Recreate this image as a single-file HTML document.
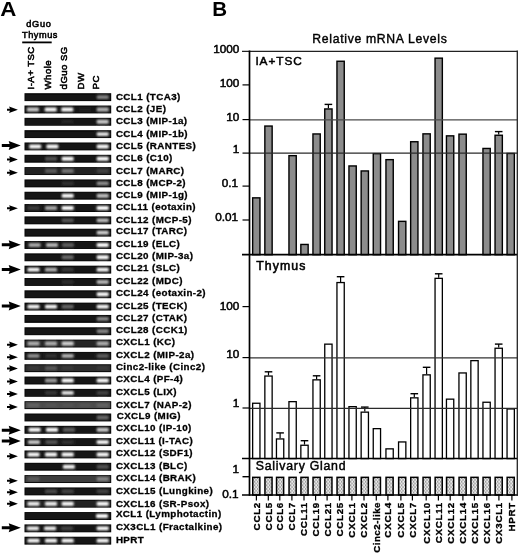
<!DOCTYPE html>
<html><head><meta charset="utf-8"><style>
html,body{margin:0;padding:0;background:#fff;}
body{width:520px;height:554px;overflow:hidden;}
svg{display:block;filter:blur(0.3px);font-family:"Liberation Sans",sans-serif;}
</style></head><body>
<svg width="520" height="554" viewBox="0 0 520 554">
<defs>
<filter id="blur" x="-30%" y="-80%" width="160%" height="260%"><feGaussianBlur stdDeviation="0.85"/></filter>
<filter id="soft" x="-5%" y="-30%" width="110%" height="160%"><feGaussianBlur stdDeviation="0.35"/></filter>
<pattern id="dots" x="0.3" y="0.2" width="3" height="3.6" patternUnits="userSpaceOnUse">
<rect width="3" height="3.6" fill="#f6f6f6"/>
<circle cx="0.9" cy="0.9" r="0.62" fill="#222"/>
<circle cx="2.4" cy="2.7" r="0.62" fill="#222"/>
</pattern>
</defs>
<rect width="520" height="554" fill="#fff"/>
<text transform="translate(0.2,15.9) scale(1.1,1)" font-size="20.3" font-weight="bold">A</text>
<text x="38.90" y="26.50" font-size="9.2" font-weight="normal" text-anchor="middle" letter-spacing="0.65" stroke="#000" stroke-width="0.55">dGuo</text>
<text x="40.00" y="37.50" font-size="9.2" font-weight="normal" text-anchor="middle" letter-spacing="0.55" stroke="#000" stroke-width="0.55">Thymus</text>
<rect x="22.20" y="41.50" width="29.50" height="1.80" fill="#000" />
<text transform="translate(34.40,89.4) rotate(-90)" x="0" y="0" font-size="9.6" font-weight="normal" stroke="#000" stroke-width="0.55" letter-spacing="0.45">I-A+ TSC</text>
<text transform="translate(50.90,89.4) rotate(-90)" x="0" y="0" font-size="9.6" font-weight="normal" stroke="#000" stroke-width="0.55" letter-spacing="0.45">Whole</text>
<text transform="translate(67.30,89.4) rotate(-90)" x="0" y="0" font-size="9.6" font-weight="normal" stroke="#000" stroke-width="0.55" letter-spacing="0.45">dGuo SG</text>
<text transform="translate(83.90,89.4) rotate(-90)" x="0" y="0" font-size="9.6" font-weight="normal" stroke="#000" stroke-width="0.55" letter-spacing="0.45">DW</text>
<text transform="translate(98.50,89.4) rotate(-90)" x="0" y="0" font-size="9.6" font-weight="normal" stroke="#000" stroke-width="0.55" letter-spacing="0.45">PC</text>
<g filter="url(#soft)">
<rect x="24.50" y="93.20" width="86.70" height="7.90" fill="#060606" />
<rect x="25.40" y="94.10" width="84.90" height="6.10" fill="rgb(18,18,18)" />
<rect x="96.70" y="95.20" width="12.00" height="3.9" rx="1.2" fill="#fff" fill-opacity="0.49" filter="url(#blur)"/>
</g>
<text x="115.90" y="99.85" font-size="9.8" font-weight="bold" text-anchor="start" letter-spacing="0.4" stroke="#000" stroke-width="0.3">CCL1 (TCA3)</text>
<g filter="url(#soft)">
<rect x="24.50" y="105.52" width="86.70" height="7.90" fill="#060606" />
<rect x="25.40" y="106.42" width="84.90" height="6.10" fill="rgb(22,22,22)" />
<rect x="26.90" y="107.52" width="12.00" height="3.9" rx="1.2" fill="#fff" fill-opacity="0.79" filter="url(#blur)"/>
<rect x="44.70" y="107.52" width="12.00" height="3.9" rx="1.2" fill="#fff" fill-opacity="1.00" filter="url(#blur)"/>
<rect x="61.30" y="107.52" width="12.00" height="3.9" rx="1.2" fill="#fff" fill-opacity="1.00" filter="url(#blur)"/>
<rect x="79.00" y="107.52" width="12.00" height="3.9" rx="1.2" fill="#fff" fill-opacity="0.05" filter="url(#blur)"/>
<rect x="96.70" y="107.52" width="12.00" height="3.9" rx="1.2" fill="#fff" fill-opacity="0.69" filter="url(#blur)"/>
</g>
<text x="115.90" y="112.20" font-size="9.8" font-weight="bold" text-anchor="start" letter-spacing="0.4" stroke="#000" stroke-width="0.3">CCL2 (JE)</text>
<path d="M7.0,108.77 L9.9,108.77 L9.1,106.57 L17.9,109.77 L9.1,112.97 L9.9,110.77 L7.0,110.77 Z" fill="#000"/>
<g filter="url(#soft)">
<rect x="24.50" y="117.84" width="86.70" height="7.90" fill="#060606" />
<rect x="25.40" y="118.74" width="84.90" height="6.10" fill="rgb(22,22,22)" />
<rect x="61.70" y="119.84" width="12.00" height="3.9" rx="1.2" fill="#fff" fill-opacity="0.07" filter="url(#blur)"/>
<rect x="96.70" y="119.84" width="12.00" height="3.9" rx="1.2" fill="#fff" fill-opacity="0.79" filter="url(#blur)"/>
</g>
<text x="115.90" y="124.40" font-size="9.8" font-weight="bold" text-anchor="start" letter-spacing="0.4" stroke="#000" stroke-width="0.3">CCL3 (MIP-1a)</text>
<g filter="url(#soft)">
<rect x="24.50" y="130.16" width="86.70" height="7.90" fill="#060606" />
<rect x="25.40" y="131.06" width="84.90" height="6.10" fill="rgb(18,18,18)" />
<rect x="96.70" y="132.16" width="12.00" height="3.9" rx="1.2" fill="#fff" fill-opacity="0.91" filter="url(#blur)"/>
</g>
<text x="115.90" y="136.60" font-size="9.8" font-weight="bold" text-anchor="start" letter-spacing="0.4" stroke="#000" stroke-width="0.3">CCL4 (MIP-1b)</text>
<g filter="url(#soft)">
<rect x="24.50" y="142.48" width="86.70" height="7.90" fill="#060606" />
<rect x="25.40" y="143.38" width="84.90" height="6.10" fill="rgb(20,20,20)" />
<rect x="29.20" y="144.48" width="12.00" height="3.9" rx="1.2" fill="#fff" fill-opacity="1.00" filter="url(#blur)"/>
<rect x="46.40" y="144.48" width="12.00" height="3.9" rx="1.2" fill="#fff" fill-opacity="1.00" filter="url(#blur)"/>
<rect x="96.70" y="144.48" width="12.00" height="3.9" rx="1.2" fill="#fff" fill-opacity="1.00" filter="url(#blur)"/>
</g>
<text x="115.90" y="149.10" font-size="9.8" font-weight="bold" text-anchor="start" letter-spacing="0.4" stroke="#000" stroke-width="0.3">CCL5 (RANTES)</text>
<path d="M1.8,143.93 L9.6,143.93 L8.7,140.93 L20.8,145.43 L8.7,149.93 L9.6,146.93 L1.8,146.93 Z" fill="#000"/>
<g filter="url(#soft)">
<rect x="24.50" y="154.80" width="86.70" height="7.90" fill="#060606" />
<rect x="25.40" y="155.70" width="84.90" height="6.10" fill="rgb(20,20,20)" />
<rect x="45.00" y="156.80" width="12.00" height="3.9" rx="1.2" fill="#fff" fill-opacity="0.27" filter="url(#blur)"/>
<rect x="61.70" y="156.80" width="12.00" height="3.9" rx="1.2" fill="#fff" fill-opacity="1.00" filter="url(#blur)"/>
<rect x="96.70" y="156.80" width="12.00" height="3.9" rx="1.2" fill="#fff" fill-opacity="1.00" filter="url(#blur)"/>
</g>
<text x="115.90" y="161.30" font-size="9.8" font-weight="bold" text-anchor="start" letter-spacing="0.4" stroke="#000" stroke-width="0.3">CCL6 (C10)</text>
<path d="M7.0,158.50 L9.9,158.50 L9.1,156.30 L17.9,159.50 L9.1,162.70 L9.9,160.50 L7.0,160.50 Z" fill="#000"/>
<g filter="url(#soft)">
<rect x="24.50" y="167.12" width="86.70" height="7.90" fill="#060606" />
<rect x="25.40" y="168.02" width="84.90" height="6.10" fill="rgb(36,36,36)" />
<rect x="45.00" y="169.12" width="12.00" height="3.9" rx="1.2" fill="#fff" fill-opacity="0.25" filter="url(#blur)"/>
<rect x="61.70" y="169.12" width="12.00" height="3.9" rx="1.2" fill="#fff" fill-opacity="0.37" filter="url(#blur)"/>
<rect x="96.70" y="169.12" width="12.00" height="3.9" rx="1.2" fill="#fff" fill-opacity="0.14" filter="url(#blur)"/>
</g>
<text x="115.90" y="173.50" font-size="9.8" font-weight="bold" text-anchor="start" letter-spacing="0.4" stroke="#000" stroke-width="0.3">CCL7 (MARC)</text>
<path d="M7.0,171.67 L9.9,171.67 L9.1,169.47 L17.9,172.67 L9.1,175.87 L9.9,173.67 L7.0,173.67 Z" fill="#000"/>
<g filter="url(#soft)">
<rect x="24.50" y="179.44" width="86.70" height="7.90" fill="#060606" />
<rect x="25.40" y="180.34" width="84.90" height="6.10" fill="rgb(20,20,20)" />
<rect x="61.70" y="181.44" width="12.00" height="3.9" rx="1.2" fill="#fff" fill-opacity="0.13" filter="url(#blur)"/>
<rect x="96.70" y="181.44" width="12.00" height="3.9" rx="1.2" fill="#fff" fill-opacity="0.53" filter="url(#blur)"/>
</g>
<text x="115.90" y="185.70" font-size="9.8" font-weight="bold" text-anchor="start" letter-spacing="0.4" stroke="#000" stroke-width="0.3">CCL8 (MCP-2)</text>
<g filter="url(#soft)">
<rect x="24.50" y="191.76" width="86.70" height="7.90" fill="#060606" />
<rect x="25.40" y="192.66" width="84.90" height="6.10" fill="rgb(20,20,20)" />
<rect x="61.70" y="193.76" width="12.00" height="3.9" rx="1.2" fill="#fff" fill-opacity="1.00" filter="url(#blur)"/>
<rect x="96.70" y="193.76" width="12.00" height="3.9" rx="1.2" fill="#fff" fill-opacity="0.74" filter="url(#blur)"/>
</g>
<text x="115.90" y="197.80" font-size="9.8" font-weight="bold" text-anchor="start" letter-spacing="0.4" stroke="#000" stroke-width="0.3">CCL9 (MIP-1g)</text>
<g filter="url(#soft)">
<rect x="24.50" y="204.08" width="86.70" height="7.90" fill="#060606" />
<rect x="25.40" y="204.98" width="84.90" height="6.10" fill="rgb(25,25,25)" />
<rect x="27.50" y="206.08" width="12.00" height="3.9" rx="1.2" fill="#fff" fill-opacity="0.14" filter="url(#blur)"/>
<rect x="45.00" y="206.08" width="12.00" height="3.9" rx="1.2" fill="#fff" fill-opacity="0.62" filter="url(#blur)"/>
<rect x="61.70" y="206.08" width="12.00" height="3.9" rx="1.2" fill="#fff" fill-opacity="1.00" filter="url(#blur)"/>
<rect x="96.70" y="206.08" width="12.00" height="3.9" rx="1.2" fill="#fff" fill-opacity="1.00" filter="url(#blur)"/>
</g>
<text x="115.90" y="210.20" font-size="9.8" font-weight="bold" text-anchor="start" letter-spacing="0.4" stroke="#000" stroke-width="0.3">CCL11 (eotaxin)</text>
<path d="M7.0,207.33 L9.9,207.33 L9.1,205.13 L17.9,208.33 L9.1,211.53 L9.9,209.33 L7.0,209.33 Z" fill="#000"/>
<g filter="url(#soft)">
<rect x="24.50" y="216.40" width="86.70" height="7.90" fill="#060606" />
<rect x="25.40" y="217.30" width="84.90" height="6.10" fill="rgb(20,20,20)" />
<rect x="61.70" y="218.40" width="12.00" height="3.9" rx="1.2" fill="#fff" fill-opacity="0.29" filter="url(#blur)"/>
<rect x="96.70" y="218.40" width="12.00" height="3.9" rx="1.2" fill="#fff" fill-opacity="0.74" filter="url(#blur)"/>
</g>
<text x="115.90" y="222.70" font-size="9.8" font-weight="bold" text-anchor="start" letter-spacing="0.4" stroke="#000" stroke-width="0.3">CCL12 (MCP-5)</text>
<g filter="url(#soft)">
<rect x="24.50" y="228.72" width="86.70" height="7.90" fill="#060606" />
<rect x="25.40" y="229.62" width="84.90" height="6.10" fill="rgb(18,18,18)" />
<rect x="96.70" y="230.72" width="12.00" height="3.9" rx="1.2" fill="#fff" fill-opacity="0.83" filter="url(#blur)"/>
</g>
<text x="115.90" y="233.70" font-size="9.8" font-weight="bold" text-anchor="start" letter-spacing="0.4" stroke="#000" stroke-width="0.3">CCL17 (TARC)</text>
<g filter="url(#soft)">
<rect x="24.50" y="241.04" width="86.70" height="7.90" fill="#060606" />
<rect x="25.40" y="241.94" width="84.90" height="6.10" fill="rgb(22,22,22)" />
<rect x="28.60" y="243.04" width="12.00" height="3.9" rx="1.2" fill="#fff" fill-opacity="0.63" filter="url(#blur)"/>
<rect x="46.00" y="243.04" width="12.00" height="3.9" rx="1.2" fill="#fff" fill-opacity="0.69" filter="url(#blur)"/>
<rect x="62.00" y="243.04" width="12.00" height="3.9" rx="1.2" fill="#fff" fill-opacity="0.31" filter="url(#blur)"/>
<rect x="96.70" y="243.04" width="12.00" height="3.9" rx="1.2" fill="#fff" fill-opacity="1.00" filter="url(#blur)"/>
</g>
<text x="115.90" y="246.70" font-size="9.8" font-weight="bold" text-anchor="start" letter-spacing="0.4" stroke="#000" stroke-width="0.3">CCL19 (ELC)</text>
<path d="M1.8,243.19 L9.6,243.19 L8.7,240.19 L20.8,244.69 L8.7,249.19 L9.6,246.19 L1.8,246.19 Z" fill="#000"/>
<g filter="url(#soft)">
<rect x="24.50" y="253.36" width="86.70" height="7.90" fill="#060606" />
<rect x="25.40" y="254.26" width="84.90" height="6.10" fill="rgb(20,20,20)" />
<rect x="61.70" y="255.36" width="12.00" height="3.9" rx="1.2" fill="#fff" fill-opacity="0.37" filter="url(#blur)"/>
<rect x="96.70" y="255.36" width="12.00" height="3.9" rx="1.2" fill="#fff" fill-opacity="1.00" filter="url(#blur)"/>
</g>
<text x="115.90" y="259.00" font-size="9.8" font-weight="bold" text-anchor="start" letter-spacing="0.4" stroke="#000" stroke-width="0.3">CCL20 (MIP-3a)</text>
<g filter="url(#soft)">
<rect x="24.50" y="265.68" width="86.70" height="7.90" fill="#060606" />
<rect x="25.40" y="266.58" width="84.90" height="6.10" fill="rgb(22,22,22)" />
<rect x="27.50" y="267.68" width="12.00" height="3.9" rx="1.2" fill="#fff" fill-opacity="1.00" filter="url(#blur)"/>
<rect x="45.00" y="267.68" width="12.00" height="3.9" rx="1.2" fill="#fff" fill-opacity="0.69" filter="url(#blur)"/>
<rect x="61.70" y="267.68" width="12.00" height="3.9" rx="1.2" fill="#fff" fill-opacity="0.15" filter="url(#blur)"/>
<rect x="96.70" y="267.68" width="12.00" height="3.9" rx="1.2" fill="#fff" fill-opacity="1.00" filter="url(#blur)"/>
</g>
<text x="115.90" y="271.30" font-size="9.8" font-weight="bold" text-anchor="start" letter-spacing="0.4" stroke="#000" stroke-width="0.3">CCL21 (SLC)</text>
<path d="M1.8,268.03 L9.6,268.03 L8.7,265.03 L20.8,269.53 L8.7,274.03 L9.6,271.03 L1.8,271.03 Z" fill="#000"/>
<g filter="url(#soft)">
<rect x="24.50" y="278.00" width="86.70" height="7.90" fill="#060606" />
<rect x="25.40" y="278.90" width="84.90" height="6.10" fill="rgb(20,20,20)" />
<rect x="61.70" y="280.00" width="12.00" height="3.9" rx="1.2" fill="#fff" fill-opacity="0.11" filter="url(#blur)"/>
<rect x="96.70" y="280.00" width="12.00" height="3.9" rx="1.2" fill="#fff" fill-opacity="0.69" filter="url(#blur)"/>
</g>
<text x="115.90" y="283.70" font-size="9.8" font-weight="bold" text-anchor="start" letter-spacing="0.4" stroke="#000" stroke-width="0.3">CCL22 (MDC)</text>
<g filter="url(#soft)">
<rect x="24.50" y="290.32" width="86.70" height="7.90" fill="#060606" />
<rect x="25.40" y="291.22" width="84.90" height="6.10" fill="rgb(18,18,18)" />
<rect x="96.70" y="292.32" width="12.00" height="3.9" rx="1.2" fill="#fff" fill-opacity="1.00" filter="url(#blur)"/>
</g>
<text x="115.90" y="296.40" font-size="9.8" font-weight="bold" text-anchor="start" letter-spacing="0.4" stroke="#000" stroke-width="0.3">CCL24 (eotaxin-2)</text>
<g filter="url(#soft)">
<rect x="24.50" y="302.64" width="86.70" height="7.90" fill="#060606" />
<rect x="25.40" y="303.54" width="84.90" height="6.10" fill="rgb(20,20,20)" />
<rect x="27.50" y="304.64" width="12.00" height="3.9" rx="1.2" fill="#fff" fill-opacity="1.00" filter="url(#blur)"/>
<rect x="45.00" y="304.64" width="12.00" height="3.9" rx="1.2" fill="#fff" fill-opacity="1.00" filter="url(#blur)"/>
<rect x="61.70" y="304.64" width="12.00" height="3.9" rx="1.2" fill="#fff" fill-opacity="0.37" filter="url(#blur)"/>
<rect x="96.70" y="304.64" width="12.00" height="3.9" rx="1.2" fill="#fff" fill-opacity="1.00" filter="url(#blur)"/>
</g>
<text x="115.90" y="308.60" font-size="9.8" font-weight="bold" text-anchor="start" letter-spacing="0.4" stroke="#000" stroke-width="0.3">CCL25 (TECK)</text>
<path d="M1.8,304.39 L9.6,304.39 L8.7,301.39 L20.8,305.89 L8.7,310.39 L9.6,307.39 L1.8,307.39 Z" fill="#000"/>
<g filter="url(#soft)">
<rect x="24.50" y="314.96" width="86.70" height="7.90" fill="#060606" />
<rect x="25.40" y="315.86" width="84.90" height="6.10" fill="rgb(18,18,18)" />
<rect x="96.70" y="316.96" width="12.00" height="3.9" rx="1.2" fill="#fff" fill-opacity="0.51" filter="url(#blur)"/>
</g>
<text x="115.90" y="320.80" font-size="9.8" font-weight="bold" text-anchor="start" letter-spacing="0.4" stroke="#000" stroke-width="0.3">CCL27 (CTAK)</text>
<g filter="url(#soft)">
<rect x="24.50" y="327.28" width="86.70" height="7.90" fill="#060606" />
<rect x="25.40" y="328.18" width="84.90" height="6.10" fill="rgb(18,18,18)" />
<rect x="96.70" y="329.28" width="12.00" height="3.9" rx="1.2" fill="#fff" fill-opacity="0.49" filter="url(#blur)"/>
</g>
<text x="115.90" y="333.00" font-size="9.8" font-weight="bold" text-anchor="start" letter-spacing="0.4" stroke="#000" stroke-width="0.3">CCL28 (CCK1)</text>
<g filter="url(#soft)">
<rect x="24.50" y="339.60" width="86.70" height="7.90" fill="#060606" />
<rect x="25.40" y="340.50" width="84.90" height="6.10" fill="rgb(40,40,40)" />
<rect x="27.50" y="341.60" width="12.00" height="3.9" rx="1.2" fill="#fff" fill-opacity="0.64" filter="url(#blur)"/>
<rect x="45.00" y="341.60" width="12.00" height="3.9" rx="1.2" fill="#fff" fill-opacity="0.64" filter="url(#blur)"/>
<rect x="61.70" y="341.60" width="12.00" height="3.9" rx="1.2" fill="#fff" fill-opacity="0.81" filter="url(#blur)"/>
<rect x="96.70" y="341.60" width="12.00" height="3.9" rx="1.2" fill="#fff" fill-opacity="0.64" filter="url(#blur)"/>
</g>
<text x="115.90" y="344.90" font-size="9.8" font-weight="bold" text-anchor="start" letter-spacing="0.4" stroke="#000" stroke-width="0.3">CXCL1 (KC)</text>
<path d="M7.0,343.70 L9.9,343.70 L9.1,341.50 L17.9,344.70 L9.1,347.90 L9.9,345.70 L7.0,345.70 Z" fill="#000"/>
<g filter="url(#soft)">
<rect x="24.50" y="351.92" width="86.70" height="7.90" fill="#060606" />
<rect x="25.40" y="352.82" width="84.90" height="6.10" fill="rgb(25,25,25)" />
<rect x="27.50" y="353.92" width="12.00" height="3.9" rx="1.2" fill="#fff" fill-opacity="0.52" filter="url(#blur)"/>
<rect x="45.00" y="353.92" width="12.00" height="3.9" rx="1.2" fill="#fff" fill-opacity="0.11" filter="url(#blur)"/>
<rect x="61.70" y="353.92" width="12.00" height="3.9" rx="1.2" fill="#fff" fill-opacity="0.68" filter="url(#blur)"/>
<rect x="96.70" y="353.92" width="12.00" height="3.9" rx="1.2" fill="#fff" fill-opacity="0.30" filter="url(#blur)"/>
</g>
<text x="115.90" y="357.50" font-size="9.8" font-weight="bold" text-anchor="start" letter-spacing="0.4" stroke="#000" stroke-width="0.3">CXCL2 (MIP-2a)</text>
<path d="M7.0,356.17 L9.9,356.17 L9.1,353.97 L17.9,357.17 L9.1,360.37 L9.9,358.17 L7.0,358.17 Z" fill="#000"/>
<g filter="url(#soft)">
<rect x="24.50" y="364.24" width="86.70" height="7.90" fill="#060606" />
<rect x="25.40" y="365.14" width="84.90" height="6.10" fill="rgb(45,45,45)" />
<rect x="27.50" y="366.24" width="12.00" height="3.9" rx="1.2" fill="#fff" fill-opacity="0.06" filter="url(#blur)"/>
<rect x="45.00" y="366.24" width="12.00" height="3.9" rx="1.2" fill="#fff" fill-opacity="0.21" filter="url(#blur)"/>
<rect x="61.70" y="366.24" width="12.00" height="3.9" rx="1.2" fill="#fff" fill-opacity="0.06" filter="url(#blur)"/>
<rect x="96.70" y="366.24" width="12.00" height="3.9" rx="1.2" fill="#fff" fill-opacity="0.06" filter="url(#blur)"/>
</g>
<text x="115.90" y="370.10" font-size="9.8" font-weight="bold" text-anchor="start" letter-spacing="0.4" stroke="#000" stroke-width="0.3">Cinc2-like (Cinc2)</text>
<path d="M7.0,367.49 L9.9,367.49 L9.1,365.29 L17.9,368.49 L9.1,371.69 L9.9,369.49 L7.0,369.49 Z" fill="#000"/>
<g filter="url(#soft)">
<rect x="24.50" y="376.56" width="86.70" height="7.90" fill="#060606" />
<rect x="25.40" y="377.46" width="84.90" height="6.10" fill="rgb(22,22,22)" />
<rect x="45.00" y="378.56" width="12.00" height="3.9" rx="1.2" fill="#fff" fill-opacity="0.58" filter="url(#blur)"/>
<rect x="61.70" y="378.56" width="12.00" height="3.9" rx="1.2" fill="#fff" fill-opacity="1.00" filter="url(#blur)"/>
<rect x="96.70" y="378.56" width="12.00" height="3.9" rx="1.2" fill="#fff" fill-opacity="1.00" filter="url(#blur)"/>
</g>
<text x="115.90" y="382.30" font-size="9.8" font-weight="bold" text-anchor="start" letter-spacing="0.4" stroke="#000" stroke-width="0.3">CXCL4 (PF-4)</text>
<path d="M7.0,380.51 L9.9,380.51 L9.1,378.31 L17.9,381.51 L9.1,384.71 L9.9,382.51 L7.0,382.51 Z" fill="#000"/>
<g filter="url(#soft)">
<rect x="24.50" y="388.88" width="86.70" height="7.90" fill="#060606" />
<rect x="25.40" y="389.78" width="84.90" height="6.10" fill="rgb(22,22,22)" />
<rect x="45.00" y="390.88" width="12.00" height="3.9" rx="1.2" fill="#fff" fill-opacity="0.15" filter="url(#blur)"/>
<rect x="61.70" y="390.88" width="12.00" height="3.9" rx="1.2" fill="#fff" fill-opacity="0.90" filter="url(#blur)"/>
<rect x="96.70" y="390.88" width="12.00" height="3.9" rx="1.2" fill="#fff" fill-opacity="0.20" filter="url(#blur)"/>
</g>
<text x="115.90" y="395.40" font-size="9.8" font-weight="bold" text-anchor="start" letter-spacing="0.4" stroke="#000" stroke-width="0.3">CXCL5 (LIX)</text>
<path d="M7.0,393.03 L9.9,393.03 L9.1,390.83 L17.9,394.03 L9.1,397.23 L9.9,395.03 L7.0,395.03 Z" fill="#000"/>
<g filter="url(#soft)">
<rect x="24.50" y="401.20" width="86.70" height="7.90" fill="#060606" />
<rect x="25.40" y="402.10" width="84.90" height="6.10" fill="rgb(76,76,76)" />
<rect x="27.50" y="403.20" width="12.00" height="3.9" rx="1.2" fill="#fff" fill-opacity="0.13" filter="url(#blur)"/>
<rect x="45.00" y="403.20" width="12.00" height="3.9" rx="1.2" fill="#fff" fill-opacity="0.04" filter="url(#blur)"/>
<rect x="61.70" y="403.20" width="12.00" height="3.9" rx="1.2" fill="#fff" fill-opacity="0.04" filter="url(#blur)"/>
<rect x="79.00" y="403.20" width="12.00" height="3.9" rx="1.2" fill="#fff" fill-opacity="0.04" filter="url(#blur)"/>
<rect x="96.70" y="403.20" width="12.00" height="3.9" rx="1.2" fill="#fff" fill-opacity="0.13" filter="url(#blur)"/>
</g>
<text x="115.90" y="407.80" font-size="9.8" font-weight="bold" text-anchor="start" letter-spacing="0.4" stroke="#000" stroke-width="0.3">CXCL7 (NAP-2)</text>
<path d="M7.0,406.00 L9.9,406.00 L9.1,403.80 L17.9,407.00 L9.1,410.20 L9.9,408.00 L7.0,408.00 Z" fill="#000"/>
<g filter="url(#soft)">
<rect x="24.50" y="413.52" width="86.70" height="7.90" fill="#060606" />
<rect x="25.40" y="414.42" width="84.90" height="6.10" fill="rgb(20,20,20)" />
<rect x="96.70" y="415.52" width="12.00" height="3.9" rx="1.2" fill="#fff" fill-opacity="0.37" filter="url(#blur)"/>
</g>
<text x="116.70" y="419.10" font-size="9.8" font-weight="bold" text-anchor="start" letter-spacing="0.4" stroke="#000" stroke-width="0.3">CXCL9 (MIG)</text>
<g filter="url(#soft)">
<rect x="24.50" y="425.84" width="86.70" height="7.90" fill="#060606" />
<rect x="25.40" y="426.74" width="84.90" height="6.10" fill="rgb(22,22,22)" />
<rect x="28.60" y="427.84" width="12.00" height="3.9" rx="1.2" fill="#fff" fill-opacity="1.00" filter="url(#blur)"/>
<rect x="46.00" y="427.84" width="12.00" height="3.9" rx="1.2" fill="#fff" fill-opacity="1.00" filter="url(#blur)"/>
<rect x="63.00" y="427.84" width="12.00" height="3.9" rx="1.2" fill="#fff" fill-opacity="0.31" filter="url(#blur)"/>
<rect x="96.70" y="427.84" width="12.00" height="3.9" rx="1.2" fill="#fff" fill-opacity="0.79" filter="url(#blur)"/>
</g>
<text x="115.90" y="431.20" font-size="9.8" font-weight="bold" text-anchor="start" letter-spacing="0.4" stroke="#000" stroke-width="0.3">CXCL10 (IP-10)</text>
<path d="M1.8,428.69 L9.6,428.69 L8.7,425.69 L20.8,430.19 L8.7,434.69 L9.6,431.69 L1.8,431.69 Z" fill="#000"/>
<g filter="url(#soft)">
<rect x="24.50" y="438.16" width="86.70" height="7.90" fill="#060606" />
<rect x="25.40" y="439.06" width="84.90" height="6.10" fill="rgb(25,25,25)" />
<rect x="28.00" y="440.16" width="12.00" height="3.9" rx="1.2" fill="#fff" fill-opacity="0.79" filter="url(#blur)"/>
<rect x="45.50" y="440.16" width="12.00" height="3.9" rx="1.2" fill="#fff" fill-opacity="0.27" filter="url(#blur)"/>
<rect x="61.70" y="440.16" width="12.00" height="3.9" rx="1.2" fill="#fff" fill-opacity="0.11" filter="url(#blur)"/>
<rect x="96.70" y="440.16" width="12.00" height="3.9" rx="1.2" fill="#fff" fill-opacity="1.00" filter="url(#blur)"/>
</g>
<text x="115.90" y="444.20" font-size="9.8" font-weight="bold" text-anchor="start" letter-spacing="0.4" stroke="#000" stroke-width="0.3">CXCL11 (I-TAC)</text>
<path d="M1.8,439.51 L9.6,439.51 L8.7,436.51 L20.8,441.01 L8.7,445.51 L9.6,442.51 L1.8,442.51 Z" fill="#000"/>
<g filter="url(#soft)">
<rect x="24.50" y="450.48" width="86.70" height="7.90" fill="#060606" />
<rect x="25.40" y="451.38" width="84.90" height="6.10" fill="rgb(25,25,25)" />
<rect x="27.50" y="452.48" width="12.00" height="3.9" rx="1.2" fill="#fff" fill-opacity="1.00" filter="url(#blur)"/>
<rect x="45.00" y="452.48" width="12.00" height="3.9" rx="1.2" fill="#fff" fill-opacity="1.00" filter="url(#blur)"/>
<rect x="61.70" y="452.48" width="12.00" height="3.9" rx="1.2" fill="#fff" fill-opacity="1.00" filter="url(#blur)"/>
<rect x="96.70" y="452.48" width="12.00" height="3.9" rx="1.2" fill="#fff" fill-opacity="1.00" filter="url(#blur)"/>
</g>
<text x="115.90" y="456.20" font-size="9.8" font-weight="bold" text-anchor="start" letter-spacing="0.4" stroke="#000" stroke-width="0.3">CXCL12 (SDF1)</text>
<path d="M7.0,455.23 L9.9,455.23 L9.1,453.03 L17.9,456.23 L9.1,459.43 L9.9,457.23 L7.0,457.23 Z" fill="#000"/>
<g filter="url(#soft)">
<rect x="24.50" y="462.80" width="86.70" height="7.90" fill="#060606" />
<rect x="25.40" y="463.70" width="84.90" height="6.10" fill="rgb(20,20,20)" />
<rect x="62.90" y="464.80" width="12.00" height="3.9" rx="1.2" fill="#fff" fill-opacity="0.96" filter="url(#blur)"/>
<rect x="96.70" y="464.80" width="12.00" height="3.9" rx="1.2" fill="#fff" fill-opacity="0.27" filter="url(#blur)"/>
</g>
<text x="115.90" y="468.80" font-size="9.8" font-weight="bold" text-anchor="start" letter-spacing="0.4" stroke="#000" stroke-width="0.3">CXCL13 (BLC)</text>
<g filter="url(#soft)">
<rect x="24.50" y="475.12" width="86.70" height="7.90" fill="#060606" />
<rect x="25.40" y="476.02" width="84.90" height="6.10" fill="rgb(60,60,60)" />
<rect x="27.50" y="477.12" width="12.00" height="3.9" rx="1.2" fill="#fff" fill-opacity="0.16" filter="url(#blur)"/>
<rect x="96.70" y="477.12" width="12.00" height="3.9" rx="1.2" fill="#fff" fill-opacity="0.38" filter="url(#blur)"/>
</g>
<text x="115.90" y="481.00" font-size="9.8" font-weight="bold" text-anchor="start" letter-spacing="0.4" stroke="#000" stroke-width="0.3">CXCL14 (BRAK)</text>
<path d="M7.0,479.87 L9.9,479.87 L9.1,477.67 L17.9,480.87 L9.1,484.07 L9.9,481.87 L7.0,481.87 Z" fill="#000"/>
<g filter="url(#soft)">
<rect x="24.50" y="487.44" width="86.70" height="7.90" fill="#060606" />
<rect x="25.40" y="488.34" width="84.90" height="6.10" fill="rgb(22,22,22)" />
<rect x="45.00" y="489.44" width="12.00" height="3.9" rx="1.2" fill="#fff" fill-opacity="0.23" filter="url(#blur)"/>
<rect x="61.70" y="489.44" width="12.00" height="3.9" rx="1.2" fill="#fff" fill-opacity="0.20" filter="url(#blur)"/>
<rect x="96.70" y="489.44" width="12.00" height="3.9" rx="1.2" fill="#fff" fill-opacity="0.20" filter="url(#blur)"/>
</g>
<text x="115.90" y="493.80" font-size="9.8" font-weight="bold" text-anchor="start" letter-spacing="0.4" stroke="#000" stroke-width="0.3">CXCL15 (Lungkine)</text>
<path d="M7.0,491.29 L9.9,491.29 L9.1,489.09 L17.9,492.29 L9.1,495.49 L9.9,493.29 L7.0,493.29 Z" fill="#000"/>
<g filter="url(#soft)">
<rect x="24.50" y="499.76" width="86.70" height="7.90" fill="#060606" />
<rect x="25.40" y="500.66" width="84.90" height="6.10" fill="rgb(35,35,35)" />
<rect x="27.50" y="501.76" width="12.00" height="3.9" rx="1.2" fill="#fff" fill-opacity="0.94" filter="url(#blur)"/>
<rect x="45.00" y="501.76" width="12.00" height="3.9" rx="1.2" fill="#fff" fill-opacity="0.94" filter="url(#blur)"/>
<rect x="61.70" y="501.76" width="12.00" height="3.9" rx="1.2" fill="#fff" fill-opacity="0.99" filter="url(#blur)"/>
<rect x="96.70" y="501.76" width="12.00" height="3.9" rx="1.2" fill="#fff" fill-opacity="1.00" filter="url(#blur)"/>
</g>
<text x="115.90" y="506.50" font-size="9.8" font-weight="bold" text-anchor="start" letter-spacing="0.4" stroke="#000" stroke-width="0.3">CXCL16 (SR-Psox)</text>
<path d="M7.0,502.71 L9.9,502.71 L9.1,500.51 L17.9,503.71 L9.1,506.91 L9.9,504.71 L7.0,504.71 Z" fill="#000"/>
<g filter="url(#soft)">
<rect x="24.50" y="512.08" width="86.70" height="7.90" fill="#060606" />
<rect x="25.40" y="512.98" width="84.90" height="6.10" fill="rgb(20,20,20)" />
<rect x="96.00" y="514.08" width="12.00" height="3.9" rx="1.2" fill="#fff" fill-opacity="1.00" filter="url(#blur)"/>
</g>
<text x="115.90" y="517.30" font-size="9.8" font-weight="bold" text-anchor="start" letter-spacing="0.4" stroke="#000" stroke-width="0.3">XCL1 (Lymphotactin)</text>
<g filter="url(#soft)">
<rect x="24.50" y="524.40" width="86.70" height="7.90" fill="#060606" />
<rect x="25.40" y="525.30" width="84.90" height="6.10" fill="rgb(25,25,25)" />
<rect x="26.90" y="526.40" width="12.00" height="3.9" rx="1.2" fill="#fff" fill-opacity="0.95" filter="url(#blur)"/>
<rect x="44.10" y="526.40" width="12.00" height="3.9" rx="1.2" fill="#fff" fill-opacity="0.95" filter="url(#blur)"/>
<rect x="61.00" y="526.40" width="12.00" height="3.9" rx="1.2" fill="#fff" fill-opacity="0.19" filter="url(#blur)"/>
<rect x="96.70" y="526.40" width="12.00" height="3.9" rx="1.2" fill="#fff" fill-opacity="1.00" filter="url(#blur)"/>
</g>
<text x="115.90" y="530.30" font-size="9.8" font-weight="bold" text-anchor="start" letter-spacing="0.4" stroke="#000" stroke-width="0.3">CX3CL1 (Fractalkine)</text>
<path d="M1.8,526.20 L9.6,526.20 L8.7,523.20 L20.8,527.70 L8.7,532.20 L9.6,529.20 L1.8,529.20 Z" fill="#000"/>
<g filter="url(#soft)">
<rect x="24.50" y="536.72" width="86.70" height="7.90" fill="#060606" />
<rect x="25.40" y="537.62" width="84.90" height="6.10" fill="rgb(22,22,22)" />
<rect x="27.50" y="538.72" width="12.00" height="3.9" rx="1.2" fill="#fff" fill-opacity="1.00" filter="url(#blur)"/>
<rect x="45.00" y="538.72" width="12.00" height="3.9" rx="1.2" fill="#fff" fill-opacity="1.00" filter="url(#blur)"/>
<rect x="61.70" y="538.72" width="12.00" height="3.9" rx="1.2" fill="#fff" fill-opacity="1.00" filter="url(#blur)"/>
<rect x="96.70" y="538.72" width="12.00" height="3.9" rx="1.2" fill="#fff" fill-opacity="1.00" filter="url(#blur)"/>
</g>
<text x="115.90" y="543.00" font-size="9.8" font-weight="bold" text-anchor="start" letter-spacing="0.4" stroke="#000" stroke-width="0.3">HPRT</text>
<text transform="translate(212.2,15.8) scale(1.04,1)" font-size="19.8" font-weight="bold">B</text>
<text x="312.30" y="43.40" font-size="12.2" font-weight="normal" text-anchor="start" letter-spacing="0.7" stroke="#000" stroke-width="0.4">Relative mRNA Levels</text>
<rect x="252.65" y="197.85" width="7.30" height="56.85" fill="#8c8c8c" stroke="#000" stroke-width="1.4"/>
<rect x="264.85" y="126.05" width="7.30" height="128.65" fill="#8c8c8c" stroke="#000" stroke-width="1.4"/>
<rect x="288.95" y="155.65" width="7.30" height="99.05" fill="#8c8c8c" stroke="#000" stroke-width="1.4"/>
<rect x="300.85" y="244.45" width="7.30" height="10.25" fill="#8c8c8c" stroke="#000" stroke-width="1.4"/>
<rect x="312.95" y="133.95" width="7.30" height="120.75" fill="#8c8c8c" stroke="#000" stroke-width="1.4"/>
<rect x="324.75" y="108.95" width="7.30" height="145.75" fill="#8c8c8c" stroke="#000" stroke-width="1.4"/>
<line x1="328.40" y1="104.40" x2="328.40" y2="108.30" stroke="#000" stroke-width="1.2"/>
<line x1="324.60" y1="104.40" x2="332.20" y2="104.40" stroke="#000" stroke-width="1.4"/>
<rect x="336.95" y="61.25" width="7.30" height="193.45" fill="#8c8c8c" stroke="#000" stroke-width="1.4"/>
<rect x="348.95" y="165.95" width="7.30" height="88.75" fill="#8c8c8c" stroke="#000" stroke-width="1.4"/>
<rect x="361.15" y="170.95" width="7.30" height="83.75" fill="#8c8c8c" stroke="#000" stroke-width="1.4"/>
<rect x="373.25" y="153.65" width="7.30" height="101.05" fill="#8c8c8c" stroke="#000" stroke-width="1.4"/>
<rect x="385.95" y="159.65" width="7.30" height="95.05" fill="#8c8c8c" stroke="#000" stroke-width="1.4"/>
<rect x="398.55" y="221.35" width="7.30" height="33.35" fill="#8c8c8c" stroke="#000" stroke-width="1.4"/>
<rect x="410.65" y="141.75" width="7.30" height="112.95" fill="#8c8c8c" stroke="#000" stroke-width="1.4"/>
<rect x="422.95" y="133.85" width="7.30" height="120.85" fill="#8c8c8c" stroke="#000" stroke-width="1.4"/>
<rect x="435.05" y="58.15" width="7.30" height="196.55" fill="#8c8c8c" stroke="#000" stroke-width="1.4"/>
<rect x="446.45" y="135.85" width="7.30" height="118.85" fill="#8c8c8c" stroke="#000" stroke-width="1.4"/>
<rect x="458.95" y="134.15" width="7.30" height="120.55" fill="#8c8c8c" stroke="#000" stroke-width="1.4"/>
<rect x="482.95" y="148.45" width="7.30" height="106.25" fill="#8c8c8c" stroke="#000" stroke-width="1.4"/>
<rect x="495.05" y="135.25" width="7.30" height="119.45" fill="#8c8c8c" stroke="#000" stroke-width="1.4"/>
<line x1="498.70" y1="131.60" x2="498.70" y2="134.60" stroke="#000" stroke-width="1.2"/>
<line x1="494.90" y1="131.60" x2="502.50" y2="131.60" stroke="#000" stroke-width="1.4"/>
<rect x="507.05" y="153.45" width="7.30" height="101.25" fill="#8c8c8c" stroke="#000" stroke-width="1.4"/>
<rect x="252.65" y="403.25" width="7.30" height="55.35" fill="#fff" stroke="#000" stroke-width="1.3"/>
<rect x="264.85" y="376.05" width="7.30" height="82.55" fill="#fff" stroke="#000" stroke-width="1.3"/>
<line x1="268.50" y1="371.80" x2="268.50" y2="375.40" stroke="#000" stroke-width="1.2"/>
<line x1="264.70" y1="371.80" x2="272.30" y2="371.80" stroke="#000" stroke-width="1.4"/>
<rect x="276.45" y="438.95" width="7.30" height="19.65" fill="#fff" stroke="#000" stroke-width="1.3"/>
<line x1="280.10" y1="432.90" x2="280.10" y2="438.30" stroke="#000" stroke-width="1.2"/>
<line x1="276.30" y1="432.90" x2="283.90" y2="432.90" stroke="#000" stroke-width="1.4"/>
<rect x="288.95" y="401.65" width="7.30" height="56.95" fill="#fff" stroke="#000" stroke-width="1.3"/>
<rect x="300.85" y="445.25" width="7.30" height="13.35" fill="#fff" stroke="#000" stroke-width="1.3"/>
<line x1="304.50" y1="440.70" x2="304.50" y2="444.60" stroke="#000" stroke-width="1.2"/>
<line x1="300.70" y1="440.70" x2="308.30" y2="440.70" stroke="#000" stroke-width="1.4"/>
<rect x="312.95" y="379.85" width="7.30" height="78.75" fill="#fff" stroke="#000" stroke-width="1.3"/>
<line x1="316.60" y1="375.80" x2="316.60" y2="379.20" stroke="#000" stroke-width="1.2"/>
<line x1="312.80" y1="375.80" x2="320.40" y2="375.80" stroke="#000" stroke-width="1.4"/>
<rect x="324.75" y="344.15" width="7.30" height="114.45" fill="#fff" stroke="#000" stroke-width="1.3"/>
<rect x="336.95" y="282.55" width="7.30" height="176.05" fill="#fff" stroke="#000" stroke-width="1.3"/>
<line x1="340.60" y1="276.70" x2="340.60" y2="281.90" stroke="#000" stroke-width="1.2"/>
<line x1="336.80" y1="276.70" x2="344.40" y2="276.70" stroke="#000" stroke-width="1.4"/>
<rect x="348.95" y="406.65" width="7.30" height="51.95" fill="#fff" stroke="#000" stroke-width="1.3"/>
<rect x="361.15" y="412.15" width="7.30" height="46.45" fill="#fff" stroke="#000" stroke-width="1.3"/>
<line x1="364.80" y1="407.10" x2="364.80" y2="411.50" stroke="#000" stroke-width="1.2"/>
<line x1="361.00" y1="407.10" x2="368.60" y2="407.10" stroke="#000" stroke-width="1.4"/>
<rect x="373.25" y="428.65" width="7.30" height="29.95" fill="#fff" stroke="#000" stroke-width="1.3"/>
<rect x="385.95" y="448.85" width="7.30" height="9.75" fill="#fff" stroke="#000" stroke-width="1.3"/>
<rect x="398.55" y="441.95" width="7.30" height="16.65" fill="#fff" stroke="#000" stroke-width="1.3"/>
<rect x="410.65" y="397.85" width="7.30" height="60.75" fill="#fff" stroke="#000" stroke-width="1.3"/>
<line x1="414.30" y1="393.70" x2="414.30" y2="397.20" stroke="#000" stroke-width="1.2"/>
<line x1="410.50" y1="393.70" x2="418.10" y2="393.70" stroke="#000" stroke-width="1.4"/>
<rect x="422.95" y="374.85" width="7.30" height="83.75" fill="#fff" stroke="#000" stroke-width="1.3"/>
<line x1="426.60" y1="367.30" x2="426.60" y2="374.20" stroke="#000" stroke-width="1.2"/>
<line x1="422.80" y1="367.30" x2="430.40" y2="367.30" stroke="#000" stroke-width="1.4"/>
<rect x="435.05" y="278.35" width="7.30" height="180.25" fill="#fff" stroke="#000" stroke-width="1.3"/>
<line x1="438.70" y1="273.80" x2="438.70" y2="277.70" stroke="#000" stroke-width="1.2"/>
<line x1="434.90" y1="273.80" x2="442.50" y2="273.80" stroke="#000" stroke-width="1.4"/>
<rect x="446.45" y="399.15" width="7.30" height="59.45" fill="#fff" stroke="#000" stroke-width="1.3"/>
<rect x="458.95" y="372.95" width="7.30" height="85.65" fill="#fff" stroke="#000" stroke-width="1.3"/>
<rect x="470.85" y="360.65" width="7.30" height="97.95" fill="#fff" stroke="#000" stroke-width="1.3"/>
<rect x="482.95" y="402.25" width="7.30" height="56.35" fill="#fff" stroke="#000" stroke-width="1.3"/>
<rect x="495.05" y="348.25" width="7.30" height="110.35" fill="#fff" stroke="#000" stroke-width="1.3"/>
<line x1="498.70" y1="344.10" x2="498.70" y2="347.60" stroke="#000" stroke-width="1.2"/>
<line x1="494.90" y1="344.10" x2="502.50" y2="344.10" stroke="#000" stroke-width="1.4"/>
<rect x="507.05" y="408.95" width="7.30" height="49.65" fill="#fff" stroke="#000" stroke-width="1.3"/>
<rect x="252.75" y="477.35" width="7.10" height="17.65" fill="url(#dots)" stroke="#000" stroke-width="1.5"/>
<rect x="264.95" y="477.35" width="7.10" height="17.65" fill="url(#dots)" stroke="#000" stroke-width="1.5"/>
<rect x="276.55" y="477.35" width="7.10" height="17.65" fill="url(#dots)" stroke="#000" stroke-width="1.5"/>
<rect x="289.05" y="477.35" width="7.10" height="17.65" fill="url(#dots)" stroke="#000" stroke-width="1.5"/>
<rect x="300.95" y="477.35" width="7.10" height="17.65" fill="url(#dots)" stroke="#000" stroke-width="1.5"/>
<rect x="313.05" y="477.35" width="7.10" height="17.65" fill="url(#dots)" stroke="#000" stroke-width="1.5"/>
<rect x="324.85" y="477.35" width="7.10" height="17.65" fill="url(#dots)" stroke="#000" stroke-width="1.5"/>
<rect x="337.05" y="477.35" width="7.10" height="17.65" fill="url(#dots)" stroke="#000" stroke-width="1.5"/>
<rect x="349.05" y="477.35" width="7.10" height="17.65" fill="url(#dots)" stroke="#000" stroke-width="1.5"/>
<rect x="361.25" y="477.35" width="7.10" height="17.65" fill="url(#dots)" stroke="#000" stroke-width="1.5"/>
<rect x="373.35" y="477.35" width="7.10" height="17.65" fill="url(#dots)" stroke="#000" stroke-width="1.5"/>
<rect x="386.05" y="477.35" width="7.10" height="17.65" fill="url(#dots)" stroke="#000" stroke-width="1.5"/>
<rect x="398.65" y="477.35" width="7.10" height="17.65" fill="url(#dots)" stroke="#000" stroke-width="1.5"/>
<rect x="410.75" y="477.35" width="7.10" height="17.65" fill="url(#dots)" stroke="#000" stroke-width="1.5"/>
<rect x="423.05" y="477.35" width="7.10" height="17.65" fill="url(#dots)" stroke="#000" stroke-width="1.5"/>
<rect x="435.15" y="477.35" width="7.10" height="17.65" fill="url(#dots)" stroke="#000" stroke-width="1.5"/>
<rect x="446.55" y="477.35" width="7.10" height="17.65" fill="url(#dots)" stroke="#000" stroke-width="1.5"/>
<rect x="459.05" y="477.35" width="7.10" height="17.65" fill="url(#dots)" stroke="#000" stroke-width="1.5"/>
<rect x="470.95" y="477.35" width="7.10" height="17.65" fill="url(#dots)" stroke="#000" stroke-width="1.5"/>
<rect x="483.05" y="477.35" width="7.10" height="17.65" fill="url(#dots)" stroke="#000" stroke-width="1.5"/>
<rect x="495.15" y="477.35" width="7.10" height="17.65" fill="url(#dots)" stroke="#000" stroke-width="1.5"/>
<rect x="507.15" y="477.35" width="7.10" height="17.65" fill="url(#dots)" stroke="#000" stroke-width="1.5"/>
<line x1="249.50" y1="119.80" x2="517.30" y2="119.80" stroke="#4a4a4a" stroke-width="1.3"/>
<line x1="249.50" y1="153.20" x2="517.30" y2="153.20" stroke="#2a2a2a" stroke-width="1.3"/>
<line x1="249.50" y1="357.90" x2="517.30" y2="357.90" stroke="#333" stroke-width="1.3"/>
<line x1="249.50" y1="408.30" x2="517.30" y2="408.30" stroke="#2a2a2a" stroke-width="1.3"/>
<line x1="242.00" y1="51.40" x2="517.30" y2="51.40" stroke="#222" stroke-width="1.2"/>
<line x1="242.00" y1="254.70" x2="517.30" y2="254.70" stroke="#000" stroke-width="1.7"/>
<line x1="242.00" y1="458.60" x2="517.30" y2="458.60" stroke="#000" stroke-width="1.5"/>
<line x1="242.00" y1="495.00" x2="517.90" y2="495.00" stroke="#000" stroke-width="1.5"/>
<line x1="249.50" y1="50.60" x2="249.50" y2="495.70" stroke="#000" stroke-width="1.7"/>
<line x1="517.30" y1="50.60" x2="517.30" y2="495.70" stroke="#222" stroke-width="1.3"/>
<line x1="242.50" y1="84.90" x2="249.50" y2="84.90" stroke="#000" stroke-width="1.2"/>
<line x1="242.50" y1="119.60" x2="249.50" y2="119.60" stroke="#000" stroke-width="1.2"/>
<line x1="242.50" y1="153.10" x2="249.50" y2="153.10" stroke="#000" stroke-width="1.2"/>
<line x1="242.50" y1="186.10" x2="249.50" y2="186.10" stroke="#000" stroke-width="1.2"/>
<line x1="242.50" y1="220.00" x2="249.50" y2="220.00" stroke="#000" stroke-width="1.2"/>
<line x1="242.50" y1="306.60" x2="249.50" y2="306.60" stroke="#000" stroke-width="1.2"/>
<line x1="242.50" y1="357.60" x2="249.50" y2="357.60" stroke="#000" stroke-width="1.2"/>
<line x1="242.50" y1="408.00" x2="249.50" y2="408.00" stroke="#000" stroke-width="1.2"/>
<line x1="242.50" y1="476.70" x2="249.50" y2="476.70" stroke="#000" stroke-width="1.4"/>
<text x="239.40" y="52.90" font-size="11.8" font-weight="normal" text-anchor="end" letter-spacing="0" stroke="#000" stroke-width="0.5">1000</text>
<text x="239.40" y="86.50" font-size="11.8" font-weight="normal" text-anchor="end" letter-spacing="0" stroke="#000" stroke-width="0.5">100</text>
<text x="239.40" y="120.50" font-size="11.8" font-weight="normal" text-anchor="end" letter-spacing="0" stroke="#000" stroke-width="0.5">10</text>
<text x="239.40" y="153.40" font-size="11.8" font-weight="normal" text-anchor="end" letter-spacing="0" stroke="#000" stroke-width="0.5">1</text>
<text x="238.10" y="187.40" font-size="11.8" font-weight="normal" text-anchor="end" letter-spacing="0" stroke="#000" stroke-width="0.5">0.1</text>
<text x="238.10" y="220.50" font-size="11.8" font-weight="normal" text-anchor="end" letter-spacing="0" stroke="#000" stroke-width="0.5">0.01</text>
<text x="239.40" y="309.60" font-size="11.8" font-weight="normal" text-anchor="end" letter-spacing="0" stroke="#000" stroke-width="0.5">100</text>
<text x="239.40" y="358.20" font-size="11.8" font-weight="normal" text-anchor="end" letter-spacing="0" stroke="#000" stroke-width="0.5">10</text>
<text x="239.40" y="407.00" font-size="11.8" font-weight="normal" text-anchor="end" letter-spacing="0" stroke="#000" stroke-width="0.5">1</text>
<text x="239.00" y="472.80" font-size="11.8" font-weight="normal" text-anchor="end" letter-spacing="0" stroke="#000" stroke-width="0.5">1</text>
<text x="238.60" y="498.00" font-size="11.8" font-weight="normal" text-anchor="end" letter-spacing="0" stroke="#000" stroke-width="0.5">0.1</text>
<text x="255.40" y="65.00" font-size="11.8" font-weight="normal" text-anchor="start" letter-spacing="0.95" stroke="#000" stroke-width="0.5">IA+TSC</text>
<text x="256.30" y="269.60" font-size="12.3" font-weight="normal" text-anchor="start" letter-spacing="1.05" stroke="#000" stroke-width="0.55">Thymus</text>
<text x="255.80" y="469.90" font-size="12.3" font-weight="normal" text-anchor="start" letter-spacing="0.75" stroke="#000" stroke-width="0.45">Salivary Gland</text>
<line x1="256.40" y1="495.00" x2="256.40" y2="500.60" stroke="#000" stroke-width="1.2"/>
<text transform="translate(259.80,502.0) rotate(-90)" x="0" y="0" font-size="9.8" font-weight="bold" text-anchor="end" letter-spacing="0.7" stroke="#000" stroke-width="0.3">CCL2</text>
<line x1="268.30" y1="495.00" x2="268.30" y2="500.60" stroke="#000" stroke-width="1.2"/>
<text transform="translate(271.70,502.0) rotate(-90)" x="0" y="0" font-size="9.8" font-weight="bold" text-anchor="end" letter-spacing="0.7" stroke="#000" stroke-width="0.3">CCL5</text>
<line x1="279.80" y1="495.00" x2="279.80" y2="500.60" stroke="#000" stroke-width="1.2"/>
<text transform="translate(283.20,502.0) rotate(-90)" x="0" y="0" font-size="9.8" font-weight="bold" text-anchor="end" letter-spacing="0.7" stroke="#000" stroke-width="0.3">CCL6</text>
<line x1="291.90" y1="495.00" x2="291.90" y2="500.60" stroke="#000" stroke-width="1.2"/>
<text transform="translate(295.30,502.0) rotate(-90)" x="0" y="0" font-size="9.8" font-weight="bold" text-anchor="end" letter-spacing="0.7" stroke="#000" stroke-width="0.3">CCL7</text>
<line x1="304.00" y1="495.00" x2="304.00" y2="500.60" stroke="#000" stroke-width="1.2"/>
<text transform="translate(307.40,502.0) rotate(-90)" x="0" y="0" font-size="9.8" font-weight="bold" text-anchor="end" letter-spacing="0.7" stroke="#000" stroke-width="0.3">CCL11</text>
<line x1="315.60" y1="495.00" x2="315.60" y2="500.60" stroke="#000" stroke-width="1.2"/>
<text transform="translate(319.00,502.0) rotate(-90)" x="0" y="0" font-size="9.8" font-weight="bold" text-anchor="end" letter-spacing="0.7" stroke="#000" stroke-width="0.3">CCL19</text>
<line x1="327.10" y1="495.00" x2="327.10" y2="500.60" stroke="#000" stroke-width="1.2"/>
<text transform="translate(330.50,502.0) rotate(-90)" x="0" y="0" font-size="9.8" font-weight="bold" text-anchor="end" letter-spacing="0.7" stroke="#000" stroke-width="0.3">CCL21</text>
<line x1="339.50" y1="495.00" x2="339.50" y2="500.60" stroke="#000" stroke-width="1.2"/>
<text transform="translate(342.90,502.0) rotate(-90)" x="0" y="0" font-size="9.8" font-weight="bold" text-anchor="end" letter-spacing="0.7" stroke="#000" stroke-width="0.3">CCL25</text>
<line x1="351.90" y1="495.00" x2="351.90" y2="500.60" stroke="#000" stroke-width="1.2"/>
<text transform="translate(355.30,502.0) rotate(-90)" x="0" y="0" font-size="9.8" font-weight="bold" text-anchor="end" letter-spacing="0.7" stroke="#000" stroke-width="0.3">CXCL1</text>
<line x1="364.00" y1="495.00" x2="364.00" y2="500.60" stroke="#000" stroke-width="1.2"/>
<text transform="translate(367.40,502.0) rotate(-90)" x="0" y="0" font-size="9.8" font-weight="bold" text-anchor="end" letter-spacing="0.7" stroke="#000" stroke-width="0.3">CXCL2</text>
<line x1="376.30" y1="495.00" x2="376.30" y2="500.60" stroke="#000" stroke-width="1.2"/>
<text transform="translate(379.70,502.0) rotate(-90)" x="0" y="0" font-size="9.8" font-weight="bold" text-anchor="end" letter-spacing="0.45" stroke="#000" stroke-width="0.3">Cinc2-like</text>
<line x1="387.90" y1="495.00" x2="387.90" y2="500.60" stroke="#000" stroke-width="1.2"/>
<text transform="translate(391.30,502.0) rotate(-90)" x="0" y="0" font-size="9.8" font-weight="bold" text-anchor="end" letter-spacing="0.7" stroke="#000" stroke-width="0.3">CXCL4</text>
<line x1="400.90" y1="495.00" x2="400.90" y2="500.60" stroke="#000" stroke-width="1.2"/>
<text transform="translate(404.30,502.0) rotate(-90)" x="0" y="0" font-size="9.8" font-weight="bold" text-anchor="end" letter-spacing="0.7" stroke="#000" stroke-width="0.3">CXCL5</text>
<line x1="412.40" y1="495.00" x2="412.40" y2="500.60" stroke="#000" stroke-width="1.2"/>
<text transform="translate(415.80,502.0) rotate(-90)" x="0" y="0" font-size="9.8" font-weight="bold" text-anchor="end" letter-spacing="0.7" stroke="#000" stroke-width="0.3">CXCL7</text>
<line x1="426.20" y1="495.00" x2="426.20" y2="500.60" stroke="#000" stroke-width="1.2"/>
<text transform="translate(429.60,502.0) rotate(-90)" x="0" y="0" font-size="9.8" font-weight="bold" text-anchor="end" letter-spacing="0.7" stroke="#000" stroke-width="0.3">CXCL10</text>
<line x1="438.40" y1="495.00" x2="438.40" y2="500.60" stroke="#000" stroke-width="1.2"/>
<text transform="translate(441.80,502.0) rotate(-90)" x="0" y="0" font-size="9.8" font-weight="bold" text-anchor="end" letter-spacing="0.7" stroke="#000" stroke-width="0.3">CXCL11</text>
<line x1="450.20" y1="495.00" x2="450.20" y2="500.60" stroke="#000" stroke-width="1.2"/>
<text transform="translate(453.60,502.0) rotate(-90)" x="0" y="0" font-size="9.8" font-weight="bold" text-anchor="end" letter-spacing="0.7" stroke="#000" stroke-width="0.3">CXCL12</text>
<line x1="462.90" y1="495.00" x2="462.90" y2="500.60" stroke="#000" stroke-width="1.2"/>
<text transform="translate(466.30,502.0) rotate(-90)" x="0" y="0" font-size="9.8" font-weight="bold" text-anchor="end" letter-spacing="0.7" stroke="#000" stroke-width="0.3">CXCL14</text>
<line x1="474.40" y1="495.00" x2="474.40" y2="500.60" stroke="#000" stroke-width="1.2"/>
<text transform="translate(477.80,502.0) rotate(-90)" x="0" y="0" font-size="9.8" font-weight="bold" text-anchor="end" letter-spacing="0.7" stroke="#000" stroke-width="0.3">CXCL15</text>
<line x1="486.80" y1="495.00" x2="486.80" y2="500.60" stroke="#000" stroke-width="1.2"/>
<text transform="translate(490.20,502.0) rotate(-90)" x="0" y="0" font-size="9.8" font-weight="bold" text-anchor="end" letter-spacing="0.7" stroke="#000" stroke-width="0.3">CXCL16</text>
<line x1="498.90" y1="495.00" x2="498.90" y2="500.60" stroke="#000" stroke-width="1.2"/>
<text transform="translate(502.30,502.0) rotate(-90)" x="0" y="0" font-size="9.8" font-weight="bold" text-anchor="end" letter-spacing="0.7" stroke="#000" stroke-width="0.3">CX3CL1</text>
<line x1="511.90" y1="495.00" x2="511.90" y2="500.60" stroke="#000" stroke-width="1.2"/>
<text transform="translate(515.30,502.0) rotate(-90)" x="0" y="0" font-size="9.8" font-weight="bold" text-anchor="end" letter-spacing="0.7" stroke="#000" stroke-width="0.3">HPRT</text>
</svg>
</body></html>
